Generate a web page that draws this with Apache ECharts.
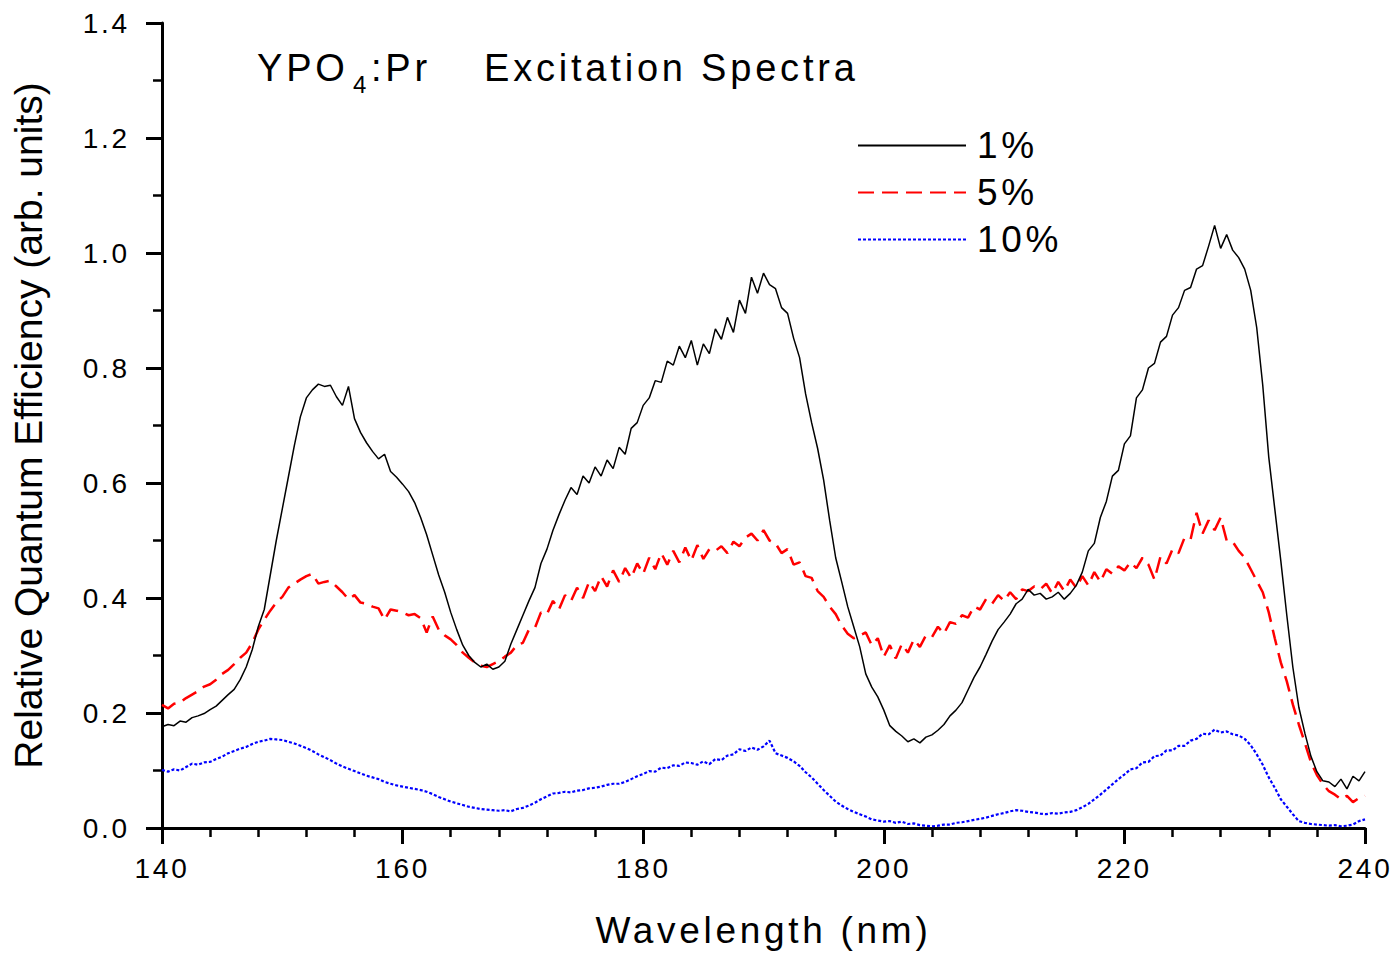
<!DOCTYPE html>
<html>
<head>
<meta charset="utf-8">
<title>YPO4:Pr Excitation Spectra</title>
<script src="https://cdn.jsdelivr.net/npm/echarts@6.0.0/dist/echarts.min.js"></script>
<style>
  html, body { margin: 0; padding: 0; background: #fff; }
  #chart { width: 1400px; height: 955px; }
  /* the plot's lettering is set with a little extra tracking */
  #chart text { letter-spacing: 0.1em; }
</style>
</head>
<body>
<div id="chart"></div>
<script>
// wavelength grid: 140 nm to 240 nm in 0.5 nm steps
const WL_START = 140;
const WL_STEP = 0.5;

// relative quantum efficiency, one value per wavelength step
const pr1 = [
  0.176,0.180,0.178,0.186,0.184,0.192,0.195,0.199,0.206,0.212,
  0.222,0.232,0.241,0.258,0.280,0.310,0.350,0.380,0.440,0.500,
  0.555,0.610,0.665,0.715,0.748,0.762,0.772,0.768,0.770,0.750,
  0.735,0.768,0.712,0.688,0.670,0.655,0.642,0.650,0.620,0.610,
  0.598,0.585,0.566,0.540,0.510,0.475,0.440,0.410,0.375,0.345,
  0.318,0.300,0.288,0.280,0.285,0.276,0.280,0.290,0.320,0.345,
  0.370,0.395,0.418,0.460,0.485,0.518,0.545,0.570,0.592,0.580,
  0.612,0.600,0.628,0.612,0.640,0.625,0.662,0.650,0.695,0.705,
  0.735,0.748,0.778,0.775,0.812,0.805,0.838,0.818,0.848,0.805,
  0.842,0.825,0.868,0.850,0.888,0.862,0.918,0.895,0.958,0.930,
  0.965,0.945,0.938,0.905,0.895,0.852,0.818,0.755,0.705,0.660,
  0.605,0.535,0.470,0.428,0.385,0.350,0.315,0.268,0.245,0.228,
  0.205,0.178,0.168,0.160,0.150,0.155,0.148,0.158,0.162,0.170,
  0.180,0.195,0.205,0.218,0.240,0.262,0.280,0.302,0.325,0.345,
  0.358,0.372,0.390,0.398,0.415,0.405,0.408,0.398,0.402,0.410,
  0.398,0.408,0.422,0.445,0.482,0.495,0.540,0.568,0.612,0.622,
  0.668,0.682,0.748,0.762,0.800,0.808,0.845,0.855,0.892,0.905,
  0.935,0.940,0.972,0.978,1.012,1.048,1.008,1.032,1.005,0.992,
  0.972,0.935,0.870,0.770,0.645,0.555,0.465,0.370,0.280,0.210,
  0.165,0.125,0.098,0.082,0.080,0.072,0.085,0.068,0.090,0.082,
  0.098
];

const pr5 = [
  0.214,0.208,0.216,0.218,0.226,0.232,0.238,0.246,0.250,0.258,
  0.268,0.275,0.285,0.296,0.305,0.322,0.345,0.362,0.378,0.392,
  0.402,0.418,0.425,0.432,0.438,0.442,0.425,0.428,0.430,0.420,
  0.410,0.398,0.405,0.392,0.390,0.385,0.382,0.362,0.380,0.378,
  0.375,0.370,0.372,0.365,0.340,0.368,0.345,0.335,0.328,0.318,
  0.305,0.296,0.288,0.282,0.280,0.285,0.290,0.298,0.305,0.318,
  0.322,0.345,0.348,0.375,0.372,0.395,0.380,0.405,0.395,0.418,
  0.400,0.428,0.412,0.438,0.420,0.448,0.428,0.452,0.435,0.460,
  0.442,0.470,0.450,0.478,0.458,0.482,0.462,0.488,0.465,0.492,
  0.468,0.485,0.482,0.490,0.478,0.498,0.490,0.505,0.512,0.500,
  0.518,0.500,0.495,0.478,0.485,0.458,0.462,0.438,0.435,0.412,
  0.402,0.385,0.372,0.352,0.338,0.330,0.335,0.340,0.318,0.330,
  0.298,0.318,0.295,0.320,0.305,0.328,0.315,0.335,0.332,0.350,
  0.338,0.358,0.355,0.370,0.366,0.385,0.380,0.398,0.390,0.405,
  0.395,0.410,0.398,0.415,0.412,0.420,0.415,0.425,0.408,0.428,
  0.412,0.432,0.418,0.438,0.422,0.445,0.428,0.450,0.442,0.455,
  0.448,0.462,0.452,0.470,0.458,0.432,0.472,0.460,0.485,0.478,
  0.505,0.502,0.548,0.512,0.535,0.518,0.540,0.500,0.498,0.482,
  0.470,0.450,0.430,0.410,0.375,0.330,0.288,0.255,0.215,0.180,
  0.148,0.115,0.092,0.076,0.064,0.058,0.050,0.056,0.045,0.052,
  0.056
];

const pr10 = [
  0.101,0.098,0.102,0.100,0.106,0.112,0.110,0.114,0.115,0.120,
  0.124,0.130,0.134,0.138,0.141,0.146,0.150,0.152,0.155,0.154,
  0.153,0.150,0.147,0.143,0.139,0.134,0.128,0.123,0.118,0.112,
  0.107,0.103,0.099,0.095,0.091,0.088,0.085,0.080,0.077,0.074,
  0.072,0.070,0.068,0.066,0.063,0.059,0.054,0.050,0.046,0.043,
  0.040,0.037,0.035,0.033,0.032,0.031,0.030,0.031,0.029,0.033,
  0.035,0.039,0.044,0.050,0.055,0.060,0.061,0.063,0.062,0.065,
  0.066,0.069,0.070,0.072,0.075,0.077,0.077,0.080,0.085,0.090,
  0.094,0.099,0.098,0.105,0.104,0.109,0.108,0.114,0.113,0.110,
  0.116,0.111,0.120,0.118,0.126,0.128,0.137,0.134,0.140,0.136,
  0.142,0.152,0.130,0.126,0.122,0.116,0.108,0.097,0.088,0.077,
  0.066,0.056,0.046,0.039,0.033,0.028,0.024,0.020,0.015,0.013,
  0.011,0.012,0.009,0.011,0.007,0.008,0.005,0.004,0.003,0.004,
  0.006,0.006,0.009,0.010,0.012,0.014,0.016,0.018,0.021,0.024,
  0.026,0.029,0.031,0.030,0.028,0.027,0.025,0.024,0.026,0.025,
  0.027,0.028,0.031,0.036,0.042,0.050,0.058,0.067,0.076,0.085,
  0.093,0.102,0.104,0.114,0.115,0.125,0.126,0.135,0.135,0.143,
  0.143,0.152,0.155,0.164,0.163,0.171,0.166,0.168,0.163,0.161,
  0.155,0.144,0.128,0.110,0.088,0.070,0.050,0.037,0.024,0.012,
  0.009,0.007,0.006,0.005,0.004,0.005,0.003,0.004,0.006,0.012,
  0.015
];

const seriesNames = ['1%', '5%', '10%'];
const xTitle = 'Wavelength (nm)';
const yTitle = 'Relative Quantum Efficiency (arb. units)';

const FONT = "'Liberation Sans', Arial, Helvetica, sans-serif";

function pairs(values) {
  return values.map((v, i) => [WL_START + i * WL_STEP, v]);
}

const chart = echarts.init(document.getElementById('chart'), null, { renderer: 'svg' });

const axisCommon = {
  axisLine: { show: true, onZero: false, lineStyle: { color: '#000', width: 3 } },
  axisTick: { show: true, inside: false, length: 16, lineStyle: { color: '#000', width: 3 } },
  minorTick: { show: true, length: 9, lineStyle: { color: '#000', width: 2.5 } },
  splitLine: { show: false },
  minorSplitLine: { show: false }
};

chart.setOption({
  animation: false,
  backgroundColor: '#fff',
  grid: { left: 162, right: 35, top: 23, bottom: 127, containLabel: false, outerBoundsMode: 'none' },
  xAxis: Object.assign({}, axisCommon, {
    type: 'value',
    min: 140,
    max: 240,
    interval: 20,
    minorTick: Object.assign({}, axisCommon.minorTick, { splitNumber: 5 }),
    axisLabel: { color: '#000', fontSize: 28, fontFamily: FONT, margin: 26, showMinLabel: true, showMaxLabel: true },
    name: xTitle,
    nameLocation: 'middle',
    nameGap: 84,
    nameTextStyle: { color: '#000', fontSize: 37, fontFamily: FONT }
  }),
  yAxis: Object.assign({}, axisCommon, {
    type: 'value',
    min: 0,
    max: 1.4,
    interval: 0.2,
    minorTick: Object.assign({}, axisCommon.minorTick, { splitNumber: 2 }),
    axisLabel: {
      color: '#000', fontSize: 28, fontFamily: FONT, margin: 32,
      showMinLabel: true, showMaxLabel: true,
      formatter: v => v.toFixed(1)
    },
    name: yTitle,
    nameLocation: 'middle',
    nameGap: 114,
    nameTextStyle: { color: '#000', fontSize: 39, fontFamily: FONT }
  }),
  legend: {
    data: seriesNames,
    orient: 'vertical',
    left: 857,
    top: 127,
    padding: 0,
    itemWidth: 108,
    itemHeight: 1,
    itemGap: 10,
    selectedMode: false,
    textStyle: { color: '#000', fontSize: 37, fontFamily: FONT, lineHeight: 37, padding: [0, 0, 0, 6] }
  },
  graphic: [
    { type: 'text', x: 257, y: 68, style: { text: 'YPO', fontSize: 38, fontFamily: FONT, fill: '#000', align: 'left', verticalAlign: 'middle' } },
    { type: 'text', x: 353, y: 84, style: { text: '4', fontSize: 24, fontFamily: FONT, fill: '#000', align: 'left', verticalAlign: 'middle' } },
    { type: 'text', x: 371, y: 68, style: { text: ':Pr', fontSize: 38, fontFamily: FONT, fill: '#000', align: 'left', verticalAlign: 'middle' } },
    { type: 'text', x: 484, y: 68, style: { text: 'Excitation Spectra', fontSize: 38, fontFamily: FONT, fill: '#000', align: 'left', verticalAlign: 'middle' } }
  ],
  series: [
    {
      name: seriesNames[0], type: 'line', data: pairs(pr1),
      symbol: 'none', smooth: false, z: 3,
      lineStyle: { color: '#000000', width: 1.5, type: 'solid' },
      itemStyle: { color: '#000000' }
    },
    {
      name: seriesNames[1], type: 'line', data: pairs(pr5),
      symbol: 'none', smooth: false, z: 2,
      lineStyle: { color: '#ff0000', width: 2.5, type: [16, 8] },
      itemStyle: { color: '#ff0000' }
    },
    {
      name: seriesNames[2], type: 'line', data: pairs(pr10),
      symbol: 'none', smooth: false, z: 2,
      lineStyle: { color: '#0000ff', width: 2.2, type: [3, 2] },
      itemStyle: { color: '#0000ff' }
    }
  ]
});

// the vertical axis title keeps normal tracking
function fixTracking() {
  document.querySelectorAll('#chart text').forEach(t => {
    if (t.textContent === yTitle) t.style.letterSpacing = '0';
  });
}
chart.on('finished', fixTracking);
fixTracking();
</script>
</body>
</html>
